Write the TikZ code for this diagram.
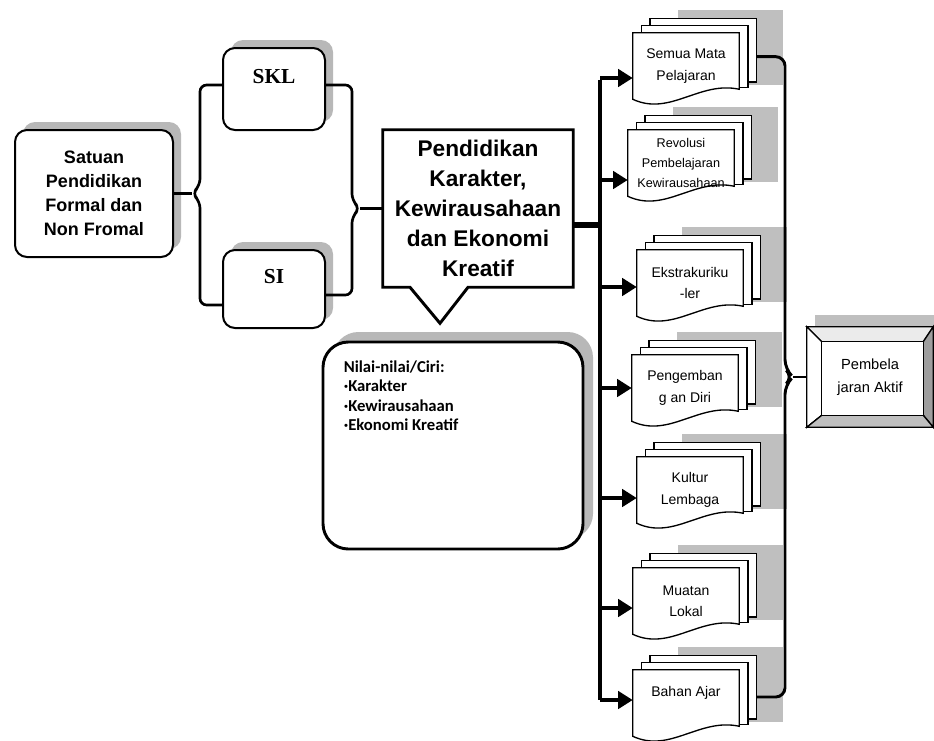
\documentclass[tikz,border=0pt]{standalone}
\usepackage{fontspec}
\setmainfont{Liberation Sans}
\newfontfamily\serifhuruf{Liberation Serif}
\newfontfamily\carlito{Carlito}
\usetikzlibrary{arrows.meta, backgrounds, shadows}

\tikzset{
  rbox/.style={draw, line width=1.5pt, fill=white, rounded corners=9pt,
    drop shadow={shadow xshift=#1, shadow yshift=#1, fill=black!28, opacity=1}},
  rbox/.default=6pt,
  docnode/.style={minimum width=79.5pt, minimum height=49.5pt, inner sep=1pt,
    align=center, font=\fontsize{10.5}{16}\selectfont},
  docpage/.style={draw, line width=1pt, fill=white},
  docshadow/.style={fill=black!25},
  bracketline/.style={line width=2pt, rounded corners=5pt},
  bigarrow/.style={line width=3.5pt, -{Triangle[length=11pt,width=13pt]}},
  serifteks/.style={font=\serifhuruf\bfseries\fontsize{16}{18}\selectfont}
}

% stacked documents behind a doc node
\newcommand{\docstack}[1]{%
  \fill[docshadow] ([xshift=34pt,yshift=17pt]#1.north west) rectangle ([xshift=33pt,yshift=11pt]#1.south east);
  \filldraw[docpage] ([xshift=13pt,yshift=10.5pt]#1.north west) rectangle ([xshift=13pt,yshift=13pt]#1.south east);
  \filldraw[docpage] ([xshift=6.5pt,yshift=5.25pt]#1.north west) rectangle ([xshift=6.5pt,yshift=9pt]#1.south east);
  \filldraw[docpage] (#1.north west) -- (#1.north east) -- ([yshift=7.5pt]#1.south east)
    .. controls ([xshift=-30pt,yshift=14pt]#1.south east) and ([xshift=28pt,yshift=-13pt]#1.south west) .. (#1.south west) -- cycle;}

\begin{document}
\begin{tikzpicture}[x=0.75pt, y=-0.75pt]
\useasboundingbox (0,0) rectangle (934,740);

% Left boxes
\node[rbox, minimum width=118.5pt, minimum height=95.25pt, align=center,
  font=\bfseries\fontsize{13.5}{18}\selectfont] (satuan) at (94,193.5)
  {Satuan\\Pendidikan\\Formal dan\\Non Fromal};
\node[rbox, minimum width=76.5pt, minimum height=61.5pt,
  label={[serifteks, yshift=9pt]center:SKL}] (skl) at (274,89) {};
\node[rbox, minimum width=76.5pt, minimum height=58.5pt,
  label={[serifteks, yshift=9pt]center:SI}] (si) at (274,289) {};

% Callout
\node[minimum width=142.5pt, minimum height=117.75pt, align=center,
  font=\bfseries\fontsize{17}{22.5}\selectfont] (pend) at (478,208.5)
  {Pendidikan\\Karakter,\\Kewirausahaan\\dan Ekonomi\\Kreatif};
\draw[line width=2.2pt, line join=miter] (pend.north west) -- (pend.north east) -- (pend.south east)
  -- ([xshift=-7.5pt]pend.south) -- ([xshift=-28.5pt,yshift=-27pt]pend.south)
  -- ([xshift=-51pt]pend.south) -- (pend.south west) -- cycle;

% Nilai box
\node[rbox=7.5pt, line width=2.2pt, rounded corners=19pt, minimum width=195pt,
  minimum height=155.25pt] (nilai) at (453,445.5) {};
\node[anchor=north west, align=left, inner sep=0pt,
  font=\carlito\bfseries\fontsize{12.5}{14.6}\selectfont] (nilaiteks)
  at ([xshift=16.5pt,yshift=-15pt]nilai.north west)
  {Nilai-nilai/Ciri:\\·Karakter\\·Kewirausahaan\\·Ekonomi Kreatif};

% Documents
\node[docnode] (semua) at (686,66) {Semua Mata\\Pelajaran};
\node[docnode, font=\fontsize{9.5}{15}\selectfont] (revolusi) at (681,163) {Revolusi\\Pembelajaran\\Kewirausahaan};
\node[docnode] (ekstra) at (690,283) {Ekstrakuriku\\-ler};
\node[docnode] (pengemban) at (685,388) {Pengemban\\g an Diri};
\node[docnode] (kultur) at (690,490) {Kultur\\Lembaga};
\node[docnode] (muatan) at (686,601) {Muatan\\Lokal};
\node[docnode, text depth=17pt] (bahan) at (686,703) {Bahan Ajar};

% Aktif box
\node[minimum width=94.5pt, minimum height=75pt, align=center,
  font=\fontsize{11}{17}\selectfont] (aktif) at (870,377) {Pembela\\jaran Aktif};

\begin{scope}[on background layer]
  \foreach \d in {semua,revolusi,ekstra,pengemban,kultur,muatan,bahan} {\docstack{\d}}
  \fill[docshadow] ([xshift=6pt,yshift=9pt]aktif.north west) rectangle ([xshift=6pt,yshift=9pt]aktif.south east);
  \coordinate (a1) at ([xshift=11.25pt,yshift=-11.25pt]aktif.north west);
  \coordinate (a2) at ([xshift=-7.5pt,yshift=-11.25pt]aktif.north east);
  \coordinate (a3) at ([xshift=-7.5pt,yshift=9pt]aktif.south east);
  \coordinate (a4) at ([xshift=11.25pt,yshift=9pt]aktif.south west);
  \filldraw[docpage, fill=black!8] (aktif.north west) -- (aktif.north east) -- (a2) -- (a1) -- cycle;
  \filldraw[docpage, fill=white] (aktif.north west) -- (a1) -- (a4) -- (aktif.south west) -- cycle;
  \filldraw[docpage, fill=black!38] (aktif.north east) -- (aktif.south east) -- (a3) -- (a2) -- cycle;
  \filldraw[docpage, fill=black!25] (aktif.south west) -- (a4) -- (a3) -- (aktif.south east) -- cycle;
  \filldraw[docpage, fill=white] (a1) rectangle (a3);
\end{scope}

% Brackets
\coordinate (lb) at (200,193.5);
\coordinate (rb) at (352,208.5);
\coordinate (sklkiri) at ([yshift=3pt]skl.west);
\coordinate (sklkanan) at ([yshift=3pt]skl.east);
\coordinate (sikiri) at ([yshift=-12pt]si.west);
\coordinate (sikanan) at ([yshift=-4.5pt]si.east);
\draw[bracketline] (sklkiri) -- (sklkiri -| lb) -- ([yshift=6pt]lb) -- ([xshift=-6pt]lb)
  -- ([yshift=-6pt]lb) -- (sikiri -| lb) -- (sikiri);
\draw[bracketline] (satuan.east) -- ([xshift=-6pt]lb);
\draw[bracketline] (sklkanan) -- (sklkanan -| rb) -- ([yshift=6pt]rb) -- ([xshift=6pt]rb)
  -- ([yshift=-6pt]rb) -- (sikanan -| rb) -- (sikanan);
\draw[bracketline] ([xshift=6pt]rb) -- (pend.west);

% Trunk and arrows
\coordinate (bus) at (600,80);
\coordinate (busend) at (600,700);
\draw[line width=3pt] (bus) -- (busend);
\coordinate (pendkanan) at ([yshift=-12pt]pend.east);
\draw[line width=4.5pt] (pendkanan) -- (pendkanan -| bus);
\foreach \d/\s in {semua/-9pt, revolusi/-12.75pt, ekstra/-3pt, pengemban/0pt,
  kultur/-6pt, muatan/-5.25pt, bahan/2.25pt} {
  \path ([yshift=\s]\d.west) coordinate (ujung);
  \draw[bigarrow] (ujung -| bus) -- (ujung);
}

% Collector to aktif
\coordinate (cb) at (785,377);
\coordinate (semuakanan) at ([xshift=13pt,yshift=7pt]semua.east);
\coordinate (bahankanan) at ([xshift=13pt,yshift=4.5pt]bahan.east);
\draw[bracketline, line width=2.2pt, rounded corners=7pt] (semuakanan) -- (semuakanan -| cb)
  -- ([yshift=6pt]cb) -- ([xshift=6pt]cb) -- ([yshift=-6pt]cb) -- (bahankanan -| cb) -- (bahankanan);
\draw[bracketline, line width=2.2pt] ([xshift=6pt]cb) -- (aktif.west);

\end{tikzpicture}
\end{document}
